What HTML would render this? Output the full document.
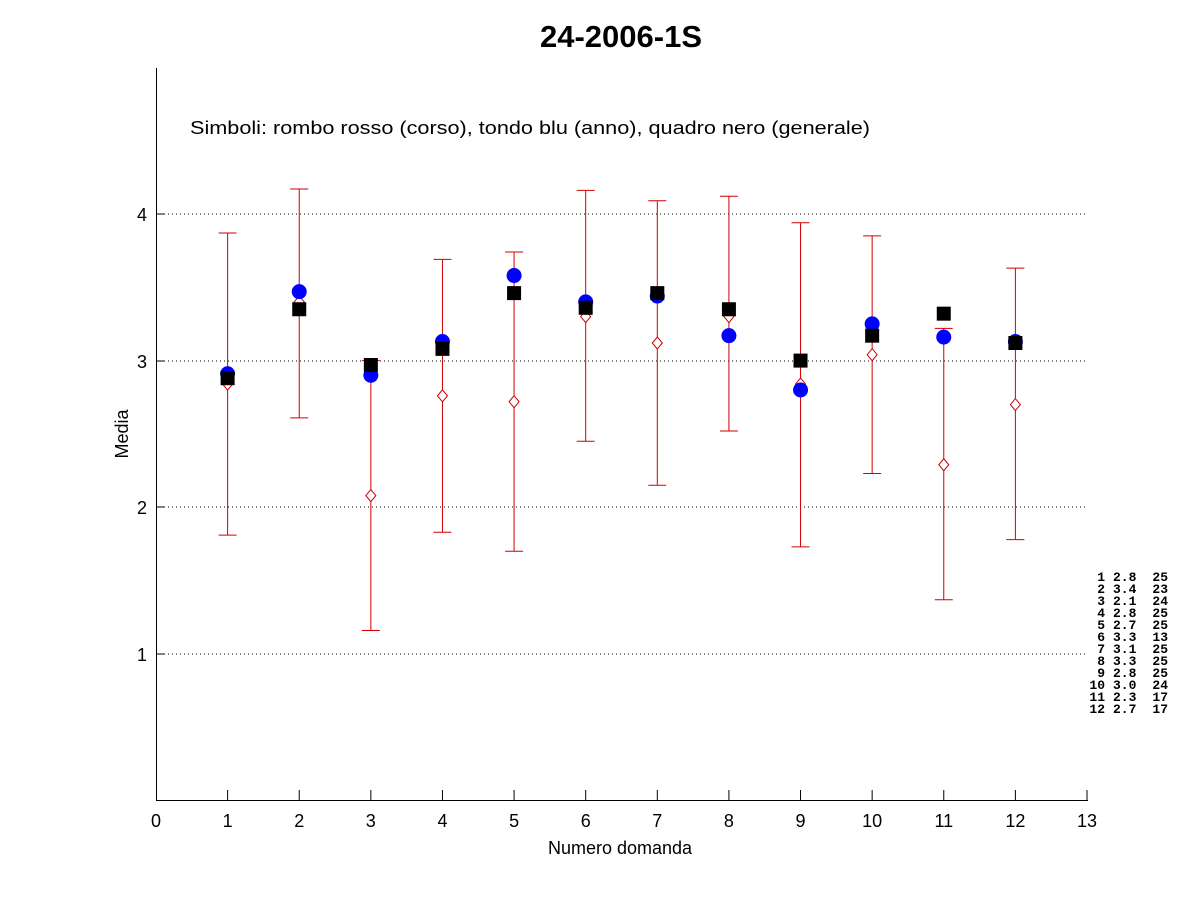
<!DOCTYPE html>
<html><head><meta charset="utf-8"><style>
html,body{margin:0;padding:0;background:#fff;}
svg{display:block;}
text{font-family:"Liberation Sans",sans-serif;}
text.m{font-family:"Liberation Mono",monospace;font-weight:bold;font-size:13px;}
</style></head><body>
<svg id="s" width="1201" height="900" xmlns="http://www.w3.org/2000/svg">
<rect width="1201" height="900" fill="#fff"/>
<text x="621" y="47" font-size="31" font-weight="bold" text-anchor="middle">24-2006-1S</text>
<text x="190" y="134" font-size="18" textLength="680" lengthAdjust="spacingAndGlyphs">Simboli: rombo rosso (corso), tondo blu (anno), quadro nero (generale)</text>
<g stroke="#000" stroke-width="1" stroke-dasharray="1,3">
<line x1="156" y1="214" x2="1087" y2="214"/>
<line x1="156" y1="361" x2="1087" y2="361"/>
<line x1="156" y1="507" x2="1087" y2="507"/>
<line x1="156" y1="654" x2="1087" y2="654"/>
</g>
<line x1="156.5" y1="68" x2="156.5" y2="801" stroke="#000"/>
<line x1="156" y1="800.5" x2="1088" y2="800.5" stroke="#000"/>
<g stroke="#000">
<line x1="156" y1="214" x2="165" y2="214"/><line x1="156" y1="361" x2="165" y2="361"/><line x1="156" y1="507" x2="165" y2="507"/><line x1="156" y1="654" x2="165" y2="654"/>
</g>
<g id="tk" stroke="#000"></g>
<g font-size="18" text-anchor="end">
<text x="147" y="221">4</text><text x="147" y="368">3</text><text x="147" y="514">2</text><text x="147" y="661">1</text>
</g>
<text transform="translate(128,434) rotate(-90)" font-size="18" text-anchor="middle">Media</text>
<text x="620" y="854" font-size="18" text-anchor="middle">Numero domanda</text>
<g font-size="18" text-anchor="middle">
<text x="156" y="827">0</text><text x="227.6" y="827">1</text><text x="299.2" y="827">2</text><text x="370.8" y="827">3</text><text x="442.5" y="827">4</text><text x="514.1" y="827">5</text><text x="585.7" y="827">6</text><text x="657.3" y="827">7</text><text x="728.9" y="827">8</text><text x="800.5" y="827">9</text><text x="872.2" y="827">10</text><text x="943.8" y="827">11</text><text x="1015.4" y="827">12</text><text x="1087" y="827">13</text>
</g>
<g id="d"></g>
<g>
<text class="m" x="1105" y="581" text-anchor="end">1</text><text class="m" x="1113" y="581">2.8</text><text class="m" x="1168" y="581" text-anchor="end">25</text>
<text class="m" x="1105" y="593" text-anchor="end">2</text><text class="m" x="1113" y="593">3.4</text><text class="m" x="1168" y="593" text-anchor="end">23</text>
<text class="m" x="1105" y="605" text-anchor="end">3</text><text class="m" x="1113" y="605">2.1</text><text class="m" x="1168" y="605" text-anchor="end">24</text>
<text class="m" x="1105" y="617" text-anchor="end">4</text><text class="m" x="1113" y="617">2.8</text><text class="m" x="1168" y="617" text-anchor="end">25</text>
<text class="m" x="1105" y="629" text-anchor="end">5</text><text class="m" x="1113" y="629">2.7</text><text class="m" x="1168" y="629" text-anchor="end">25</text>
<text class="m" x="1105" y="641" text-anchor="end">6</text><text class="m" x="1113" y="641">3.3</text><text class="m" x="1168" y="641" text-anchor="end">13</text>
<text class="m" x="1105" y="653" text-anchor="end">7</text><text class="m" x="1113" y="653">3.1</text><text class="m" x="1168" y="653" text-anchor="end">25</text>
<text class="m" x="1105" y="665" text-anchor="end">8</text><text class="m" x="1113" y="665">3.3</text><text class="m" x="1168" y="665" text-anchor="end">25</text>
<text class="m" x="1105" y="677" text-anchor="end">9</text><text class="m" x="1113" y="677">2.8</text><text class="m" x="1168" y="677" text-anchor="end">25</text>
<text class="m" x="1105" y="689" text-anchor="end">10</text><text class="m" x="1113" y="689">3.0</text><text class="m" x="1168" y="689" text-anchor="end">24</text>
<text class="m" x="1105" y="701" text-anchor="end">11</text><text class="m" x="1113" y="701">2.3</text><text class="m" x="1168" y="701" text-anchor="end">17</text>
<text class="m" x="1105" y="713" text-anchor="end">12</text><text class="m" x="1113" y="713">2.7</text><text class="m" x="1168" y="713" text-anchor="end">17</text>
</g>
</svg>
<script>
var D=[[1.81,3.87,2.84,2.91,2.88],[2.61,4.17,3.40,3.47,3.35],[1.16,3.0,2.08,2.90,2.97],[1.83,3.69,2.76,3.13,3.08],[1.70,3.74,2.72,3.58,3.46],[2.45,4.16,3.30,3.40,3.36],[2.15,4.09,3.12,3.44,3.46],[2.52,4.12,3.30,3.17,3.35],[1.73,3.94,2.84,2.80,3.00],[2.23,3.85,3.04,3.25,3.17],[1.37,3.22,2.29,3.16,3.32],[1.78,3.63,2.70,3.13,3.12]];
function X(v){return 156+71.615*v}function Y(v){return 800.7-146.7*v}
var t='';for(var k=1;k<=13;k++){t+='<line x1="'+X(k)+'" y1="800" x2="'+X(k)+'" y2="790"/>';}
document.getElementById('tk').innerHTML=t;
var h='';
D.forEach(function(d,i){var x=X(i+1),a=Y(d[0]),b=Y(d[1]),c=Y(d[2]);
h+='<g stroke="#d00000" stroke-width="1" fill="none"><line x1="'+x+'" y1="'+a+'" x2="'+x+'" y2="'+b+'"/><line x1="'+(x-9)+'" y1="'+a+'" x2="'+(x+9)+'" y2="'+a+'"/><line x1="'+(x-9)+'" y1="'+b+'" x2="'+(x+9)+'" y2="'+b+'"/>';
h+='<polygon points="'+x+','+(c-6)+' '+(x+5)+','+c+' '+x+','+(c+6)+' '+(x-5)+','+c+'" fill="#fff"/></g>';
h+='<circle cx="'+x+'" cy="'+Y(d[3])+'" r="7.5" fill="#0000ff"/>';
h+='<rect x="'+(x-7)+'" y="'+(Y(d[4])-7)+'" width="14" height="14" fill="#000"/>';});
document.getElementById('d').innerHTML=h;
</script>
</body></html>
